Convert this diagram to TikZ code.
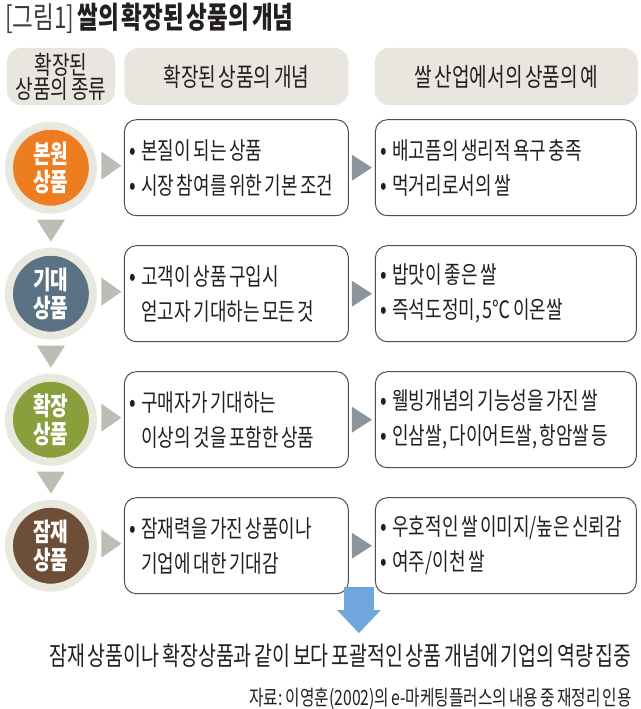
\documentclass[tikz,border=0pt]{standalone}
\usepackage{fontspec}
\setmainfont{Noto Sans CJK KR}[FakeStretch=0.75, WordSpace=0.6]
\usepackage{tikz}
\usetikzlibrary{positioning,calc,shapes.geometric,arrows.meta}

\definecolor{ink}{HTML}{231F20}
\definecolor{titlegray}{HTML}{3A3A3A}
\definecolor{hdgray}{HTML}{E8E6DF}
\definecolor{halo}{HTML}{E9E8DE}
\definecolor{boxline}{HTML}{4D4D4D}
\definecolor{basicorange}{HTML}{EE7D22}
\definecolor{expectblue}{HTML}{5A7283}
\definecolor{augmentgreen}{HTML}{8A9E3C}
\definecolor{potentialbrown}{HTML}{6D4E37}
\definecolor{ptrlight}{HTML}{BEBDB3}
\definecolor{ptrdark}{HTML}{8D959C}
\definecolor{arrowblue}{HTML}{6FA6DB}

\newcommand{\itemdot}{\makebox[12pt][l]{\fontsize{26}{0}\selectfont •}}
\newcommand{\itemgap}{\hspace*{12pt}}

\begin{document}
\begin{tikzpicture}[
  x=1pt, y=-1pt,
  node distance=29pt and 27pt,
  every node/.style={text=ink, inner sep=0pt},
  title/.style={font=\fontsize{30}{30}\selectfont},
  header/.style={fill=hdgray, rounded corners=14pt, minimum height=57pt, align=center, font=\fontsize{25.5}{24}\selectfont},
  kind/.style={circle, fill=#1, draw=halo, line width=8pt, minimum size=84pt, text=white, align=center, font=\bfseries\fontsize{25.5}{28}\selectfont},
  box/.style={draw=boxline, line width=1pt, rounded corners=12pt, minimum height=96pt, inner xsep=5pt, align=flush left, font=\fontsize{24}{35}\selectfont},
  concept/.style={box, text width=214pt},
  example/.style={box, text width=251pt},
  pointer/.style={fill=#1},
  bigarrow/.style={draw=arrowblue, line width=30pt, -{Triangle[width=42pt, length=23pt]}},
  conclusion/.style={font=\fontsize{26}{26}\selectfont},
  source/.style={font=\fontsize{21}{22}\selectfont}
]
\useasboundingbox (0,0) rectangle (640,709);

\node[title, anchor=west] (title) at (5,18) {{\color{titlegray}[그림1]} \textbf{쌀의 확장된 상품의 개념}};

% headers
\node[header, minimum width=108pt] (hdType) at (61,76.5) {확장된\\상품의 종류};
\node[header, minimum width=224pt, right=9pt of hdType] (hdConcept) {확장된 상품의 개념};
\node[header, minimum width=263pt, right=26pt of hdConcept] (hdExample) {쌀 산업에서의 상품의 예};

% rows
\node[concept, below=14pt of hdConcept] (bConcept1) {\itemdot 본질이 되는 상품\\\itemdot 시장 참여를 위한 기본 조건};
\node[example, right=26pt of bConcept1] (bExample1) {\itemdot 배고픔의 생리적 욕구 충족\\\itemdot 먹거리로서의 쌀};
\node[concept, below=of bConcept1] (bConcept2) {\itemdot 고객이 상품 구입시\\\itemgap 얻고자 기대하는 모든 것};
\node[example, right=26pt of bConcept2] (bExample2) {\itemdot 밥맛이 좋은 쌀\\\itemdot 즉석도정미, 5℃ 이온쌀};
\node[concept, below=of bConcept2] (bConcept3) {\itemdot 구매자가 기대하는\\\itemgap 이상의 것을 포함한 상품};
\node[example, right=26pt of bConcept3] (bExample3) {\itemdot 웰빙개념의 기능성을 가진 쌀\\\itemdot 인삼쌀, 다이어트쌀, 항암쌀 등};
\node[concept, below=of bConcept3] (bConcept4) {\itemdot 잠재력을 가진 상품이나\\\itemgap 기업에 대한 기대감};
\node[example, right=26pt of bConcept4] (bExample4) {\itemdot 우호적인 쌀 이미지/높은 신뢰감\\\itemdot 여주/이천 쌀};

% kinds of product
\node[kind=basicorange, left=of bConcept1] (cBasic) {본원\\상품};
\node[kind=expectblue, left=of bConcept2] (cExpected) {기대\\상품};
\node[kind=augmentgreen, left=of bConcept3] (cAugmented) {확장\\상품};
\node[kind=potentialbrown, left=of bConcept4] (cPotential) {잠재\\상품};

% pointers
\coordinate (pBasic) at ($(cBasic.east)!0.5!(bConcept1.west)+(1,-2)$);
\coordinate (pExpected) at ($(cExpected.east)!0.5!(bConcept2.west)+(1,-2)$);
\coordinate (pAugmented) at ($(cAugmented.east)!0.5!(bConcept3.west)+(1,-2)$);
\coordinate (pPotential) at ($(cPotential.east)!0.5!(bConcept4.west)+(1,-2)$);
\coordinate (pRow1) at ($(bConcept1.east)!0.5!(bExample1.west)$);
\coordinate (pRow2) at ($(bConcept2.east)!0.5!(bExample2.west)$);
\coordinate (pRow3) at ($(bConcept3.east)!0.5!(bExample3.west)$);
\coordinate (pRow4) at ($(bConcept4.east)!0.5!(bExample4.west)$);
\fill[pointer=ptrlight] (pBasic) ++(-10,-14) -- ++(20,14) -- ++(-20,14) -- cycle;
\fill[pointer=ptrlight] (pExpected) ++(-10,-14) -- ++(20,14) -- ++(-20,14) -- cycle;
\fill[pointer=ptrlight] (pAugmented) ++(-10,-14) -- ++(20,14) -- ++(-20,14) -- cycle;
\fill[pointer=ptrlight] (pPotential) ++(-10,-14) -- ++(20,14) -- ++(-20,14) -- cycle;
\fill[pointer=ptrdark] (pRow1) ++(-10,-13) -- ++(20,13) -- ++(-20,13) -- cycle;
\fill[pointer=ptrdark] (pRow2) ++(-10,-13) -- ++(20,13) -- ++(-20,13) -- cycle;
\fill[pointer=ptrdark] (pRow3) ++(-10,-13) -- ++(20,13) -- ++(-20,13) -- cycle;
\fill[pointer=ptrdark] (pRow4) ++(-10,-13) -- ++(20,13) -- ++(-20,13) -- cycle;
\coordinate (dBasic) at ($(cBasic.south)!0.5!(cExpected.north)$);
\coordinate (dExpected) at ($(cExpected.south)!0.5!(cAugmented.north)$);
\coordinate (dAugmented) at ($(cAugmented.south)!0.5!(cPotential.north)$);
\fill[pointer=ptrlight] (dBasic) ++(-14,-11) -- ++(28,0) -- ++(-14,22) -- cycle;
\fill[pointer=ptrlight] (dExpected) ++(-14,-11) -- ++(28,0) -- ++(-14,22) -- cycle;
\fill[pointer=ptrlight] (dAugmented) ++(-14,-11) -- ++(28,0) -- ++(-14,22) -- cycle;

% conclusion
\node[conclusion, below left=49pt and 5pt of bExample4.south east] (concl) {잠재 상품이나 확장상품과 같이 보다 포괄적인 상품 개념에 기업의 역량 집중};
\node[source, below left=20pt and 0pt of concl.south east] (src) {자료: 이영훈(2002)의 e-마케팅플러스의 내용 중 재정리 인용};

\coordinate (arrowTop) at ($($(bConcept4.south east)!0.5!(bExample4.south west)$)+(-3,-7)$);
\draw[bigarrow, shorten >=10pt] (arrowTop) -- (arrowTop |- concl.north);

\end{tikzpicture}
\end{document}
